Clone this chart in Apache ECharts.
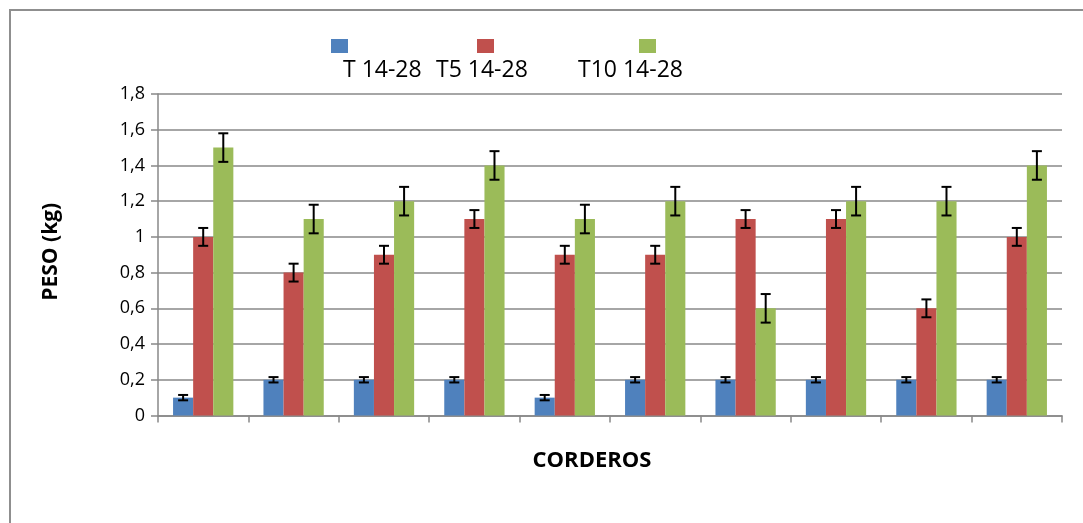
<!DOCTYPE html>
<html>
<head>
<meta charset="utf-8">
<script src="https://cdn.jsdelivr.net/npm/echarts@6/dist/echarts.min.js"></script>
<style>
html,body{margin:0;padding:0;background:#fff;}
#chart{width:1083px;height:523px;}
</style>
</head>
<body>
<div id="chart"></div>
<script>
const categories = ['1','2','3','4','5','6','7','8','9','10'];
const seriesNames = ['T 14-28', 'T5 14-28', 'T10 14-28'];
const valuesT = [0.1, 0.2, 0.2, 0.2, 0.1, 0.2, 0.2, 0.2, 0.2, 0.2];
const valuesT5 = [1.0, 0.8, 0.9, 1.1, 0.9, 0.9, 1.1, 1.1, 0.6, 1.0];
const valuesT10 = [1.5, 1.1, 1.2, 1.4, 1.1, 1.2, 0.6, 1.2, 1.2, 1.4];
const errT = [0.015, 0.015, 0.015, 0.015, 0.015, 0.015, 0.015, 0.015, 0.015, 0.015];
const errT5 = [0.05, 0.05, 0.05, 0.05, 0.05, 0.05, 0.05, 0.05, 0.05, 0.05];
const errT10 = [0.08, 0.08, 0.08, 0.08, 0.08, 0.08, 0.08, 0.08, 0.08, 0.08];
const yTicks = { min: 0, max: 1.8, interval: 0.2 };

const colors = ['#4F81BD', '#C0504D', '#9BBB59'];
const FONT = '"Open Sans", "Liberation Sans", sans-serif';
const CAT_GAP = 1/3;

const chart = echarts.init(document.getElementById('chart'), null, {renderer: 'canvas'});

function errSeries(vals, errs, offset) {
  return {
    type: 'custom',
    z: 10,
    silent: true,
    encode: { x: 0, y: 1 },
    data: vals.map((v, i) => [i, v, errs[i]]),
    renderItem: function (params, api) {
      const xi = api.value(0), v = api.value(1), e = api.value(2);
      const c = api.coord([xi, v]);
      const bw = api.size([1, 0])[0] * (1 - CAT_GAP) / 3;
      const x = c[0] + offset * bw;
      const yt = api.coord([xi, v + e])[1];
      const yb = api.coord([xi, v - e])[1];
      const hw = 5;
      const st = { stroke: '#000', lineWidth: 2 };
      return {
        type: 'group',
        children: [
          { type: 'line', shape: { x1: x, y1: yt, x2: x, y2: yb }, style: st },
          { type: 'line', shape: { x1: x - hw, y1: yt, x2: x + hw, y2: yt }, style: st },
          { type: 'line', shape: { x1: x - hw, y1: yb, x2: x + hw, y2: yb }, style: st }
        ]
      };
    }
  };
}

const legendIconX = [331, 477, 639];
const legendTextX = [343, 436, 578];

const option = {
  animation: false,
  backgroundColor: '#fff',
  color: colors,
  textStyle: { fontFamily: FONT },
  grid: { left: 158, right: 21, top: 94, bottom: 107.5, containLabel: false },
  legend: seriesNames.map((n, i) => ({
    data: [n],
    left: legendIconX[i],
    top: 39,
    padding: 0,
    itemWidth: 17,
    itemHeight: 14,
    icon: 'rect',
    formatter: function () { return ''; },
    textStyle: { fontSize: 1 }
  })),
  graphic: [
    {
      type: 'rect', silent: true, z: -1,
      shape: { x: 10, y: 10, width: 1200, height: 700 },
      style: { fill: 'none', stroke: '#8f8f8f', lineWidth: 2 }
    }
  ].concat(seriesNames.map((n, i) => ({
    type: 'text',
    left: legendTextX[i],
    top: 59,
    style: { text: n, font: '23px ' + FONT, fill: '#000' }
  }))),
  xAxis: {
    type: 'category',
    data: categories,
    boundaryGap: true,
    name: 'CORDEROS',
    nameLocation: 'middle',
    nameGap: 34,
    nameTextStyle: { fontFamily: FONT, fontWeight: 'bold', fontSize: 22, color: '#000', padding: [0, 36, 0, 0] },
    axisLine: { lineStyle: { color: '#888', width: 1.5 } },
    axisTick: { show: true, interval: 0, length: 7, lineStyle: { color: '#888', width: 1.5 } },
    axisLabel: { show: false },
    splitLine: { show: false }
  },
  yAxis: {
    type: 'value',
    min: yTicks.min,
    max: yTicks.max,
    interval: yTicks.interval,
    name: 'PESO (kg)',
    nameLocation: 'middle',
    nameGap: 96,
    nameRotate: 90,
    nameTextStyle: { fontFamily: FONT, fontWeight: 'bold', fontSize: 21, color: '#000', padding: [0, 0, 0, 6] },
    axisLine: { show: true, lineStyle: { color: '#888', width: 1.5 } },
    axisTick: { show: true, length: 7, lineStyle: { color: '#888', width: 1.5 } },
    axisLabel: {
      margin: 13,
      fontFamily: FONT,
      fontSize: 18,
      color: '#000',
      formatter: function (v) { return String(Math.round(v * 10) / 10).replace('.', ','); }
    },
    splitLine: { show: true, lineStyle: { color: '#888', width: 1.5 } }
  },
  series: [
    { name: seriesNames[0], type: 'bar', data: valuesT, barGap: '0%', barCategoryGap: '33.3%', itemStyle: { color: colors[0] } },
    { name: seriesNames[1], type: 'bar', data: valuesT5, barGap: '0%', barCategoryGap: '33.3%', itemStyle: { color: colors[1] } },
    { name: seriesNames[2], type: 'bar', data: valuesT10, barGap: '0%', barCategoryGap: '33.3%', itemStyle: { color: colors[2] } },
    errSeries(valuesT, errT, -1),
    errSeries(valuesT5, errT5, 0),
    errSeries(valuesT10, errT10, 1)
  ]
};
chart.setOption(option);
</script>
</body>
</html>
